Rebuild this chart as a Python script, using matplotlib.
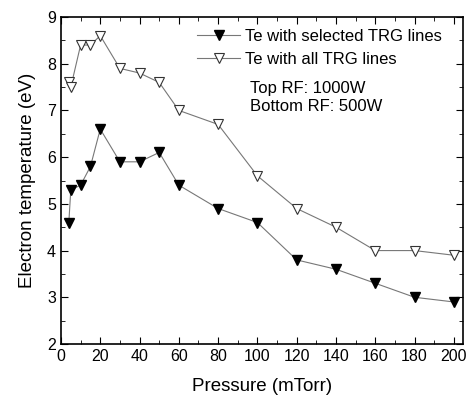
import matplotlib
matplotlib.use("Agg")
import matplotlib.pyplot as plt
from matplotlib.ticker import MultipleLocator

plt.rcParams['font.family'] = ['Liberation Sans', 'DejaVu Sans']

pressure = [4, 5, 10, 15, 20, 30, 40, 50, 60, 80, 100, 120, 140, 160, 180, 200]
te_selected = [4.6, 5.3, 5.4, 5.8, 6.6, 5.9, 5.9, 6.1, 5.4, 4.9, 4.6, 3.8, 3.6, 3.3, 3.0, 2.9]
te_all = [7.6, 7.5, 8.4, 8.4, 8.6, 7.9, 7.8, 7.6, 7.0, 6.7, 5.6, 4.9, 4.5, 4.0, 4.0, 3.9]

fig = plt.figure(figsize=(4.69, 4.00), dpi=100)
ax = fig.add_axes([0.130, 0.14, 0.857, 0.8175])

ax.plot(pressure, te_selected, color='#777777', lw=0.8, marker='v', ms=7,
        mfc='black', mec='black', label='Te with selected TRG lines')
ax.plot(pressure, te_all, color='#777777', lw=0.8, marker='v', ms=7,
        mfc='white', mec='#333333', mew=0.8, label='Te with all TRG lines')

ax.set_xlim(0, 204.6)
ax.set_ylim(2, 9)
ax.xaxis.set_major_locator(MultipleLocator(20))
ax.xaxis.set_minor_locator(MultipleLocator(10))
ax.yaxis.set_major_locator(MultipleLocator(1))
ax.yaxis.set_minor_locator(MultipleLocator(0.5))
ax.tick_params(which='both', direction='in', top=True, right=True, labelsize=11.5)
ax.tick_params(which='major', length=5)
ax.tick_params(which='minor', length=3)
for s in ax.spines.values():
    s.set_linewidth(1.2)

ax.set_xlabel('Pressure (mTorr)', fontsize=13.5, labelpad=10)
ax.set_ylabel('Electron temperature (eV)', fontsize=13.5, labelpad=8)

ax.legend(loc='upper right', bbox_to_anchor=(0.965, 0.985), frameon=False,
          fontsize=12, handlelength=2.6, borderaxespad=0, handletextpad=0.3,
          labelspacing=0.5)
ax.text(0.470, 0.805, 'Top RF: 1000W\nBottom RF: 500W', transform=ax.transAxes,
        fontsize=12, va='top', linespacing=1.3)

fig.savefig('out.png', dpi=100)
